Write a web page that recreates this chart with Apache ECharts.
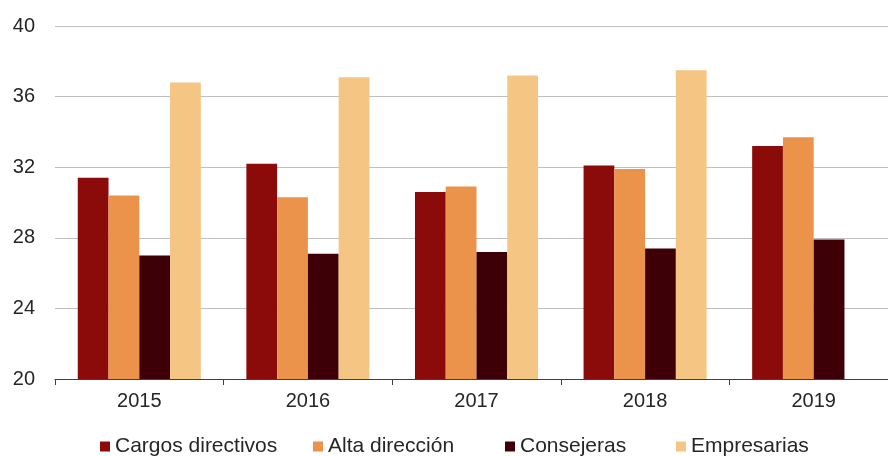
<!DOCTYPE html>
<html>
<head>
<meta charset="utf-8">
<script src="https://cdn.jsdelivr.net/npm/echarts@6/dist/echarts.min.js"></script>
<style>
html,body{margin:0;padding:0;background:#fff;}
#c{width:888px;height:456px;}
</style>
</head>
<body>
<div id="c"></div>
<script>
const categories = ['2015','2016','2017','2018','2019'];
const seriesNames = ['Cargos directivos','Alta dirección','Consejeras','Empresarias'];
const cargosDirectivos = [31.4, 32.2, 30.6, 32.1, 33.2];
const altaDireccion = [30.4, 30.3, 30.9, 31.9, 33.7];
const consejeras = [27.0, 27.1, 27.2, 27.4, 27.9];
const empresarias = [36.8, 37.1, 37.2, 37.5, null];
const yTicks = [20, 24, 28, 32, 36, 40];

const colors = ['#8B0B0B', '#EC934B', '#3E0006', '#F4C583'];
const values = [cargosDirectivos, altaDireccion, consejeras, empresarias];
const legendLefts = [100, 313, 505, 676];
const fontFam = '"Liberation Sans", Arial, sans-serif';
const textColor = '#262626';

const chart = echarts.init(document.getElementById('c'), null, {renderer: 'canvas'});
chart.setOption({
  animation: false,
  backgroundColor: '#fff',
  grid: {left: 55, width: 843, top: 26, bottom: 77, containLabel: false, outerBoundsMode: 'none'},
  legend: seriesNames.map((n, i) => ({
    data: [n],
    left: legendLefts[i],
    top: 436,
    itemWidth: 10,
    itemHeight: 10,
    itemGap: 6,
    icon: 'rect',
    padding: 0,
    textStyle: {fontFamily: fontFam, fontSize: 21, color: textColor, padding: [0,0,0,0]}
  })),
  xAxis: {
    type: 'category',
    data: categories,
    axisLine: {show: true, lineStyle: {color: '#404040', width: 1}},
    axisTick: {show: true, alignWithLabel: false, length: 6, lineStyle: {color: '#404040'}},
    axisLabel: {fontFamily: fontFam, fontSize: 20, color: textColor, margin: 12}
  },
  yAxis: {
    type: 'value',
    min: yTicks[0],
    max: yTicks[yTicks.length - 1],
    interval: 4,
    axisLine: {show: false},
    axisTick: {show: false},
    splitLine: {lineStyle: {color: '#BFBFBF', width: 1}},
    axisLabel: {fontFamily: fontFam, fontSize: 20, color: textColor, margin: 20}
  },
  series: seriesNames.map((n, i) => ({
    name: n,
    type: 'bar',
    data: values[i],
    barGap: '0%',
    barCategoryGap: '27%',
    itemStyle: {color: colors[i]}
  }))
});
</script>
</body>
</html>
